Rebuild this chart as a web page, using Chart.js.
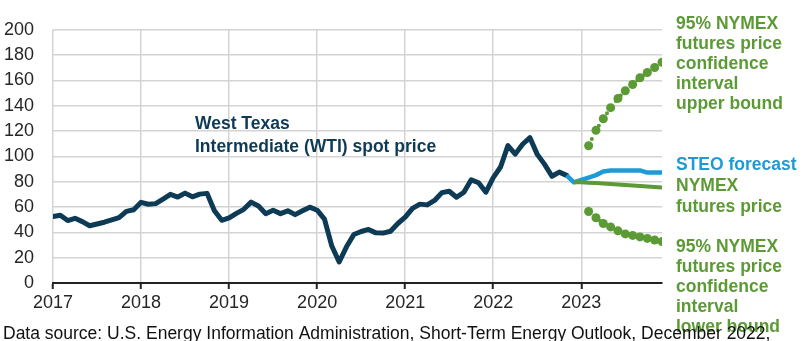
<!DOCTYPE html>
<html>
<head>
<meta charset="utf-8">
<script src="https://cdn.jsdelivr.net/npm/chart.js@4.4.1/dist/chart.umd.min.js"></script>
<style>
  html, body { margin: 0; padding: 0; background: #fff; }
  #wrap { width: 803px; height: 341px; }
</style>
</head>
<body>
<div id="wrap"><canvas id="oilChart" width="803" height="341"></canvas></div>
<script>
  // months are counted from January of the first year
  const firstYear = 2017;
  const yearTicks = [2017, 2018, 2019, 2020, 2021, 2022, 2023];
  const priceTicks = [0, 20, 40, 60, 80, 100, 120, 140, 160, 180, 200];

  // WTI monthly spot price, Jan 2017 - Nov 2022
  const wtiStart = "2017-01";
  const wtiPrice = [
    52.5, 53.5, 49.3, 51.1, 48.5, 45.2, 46.6, 48.0, 49.8, 51.6, 56.6, 57.9,
    63.7, 62.2, 62.7, 66.3, 70.0, 67.9, 71.0, 68.1, 70.2, 70.8, 57.0, 49.5,
    51.4, 55.0, 58.2, 63.9, 60.8, 54.7, 57.4, 54.8, 57.0, 54.0, 57.0, 59.9,
    57.5, 50.5, 29.2, 16.6, 28.6, 38.3, 40.7, 42.3, 39.6, 39.4, 40.9, 47.0,
    52.0, 59.0, 62.3, 61.7, 65.2, 71.4, 72.5, 67.7, 71.7, 81.5, 79.2, 71.7,
    83.2, 91.6, 108.5, 101.8, 109.6, 114.8, 101.6, 93.7, 84.3, 87.6, 85.0
  ];

  // STEO forecast, Nov 2022 - Dec 2023
  const steoStart = "2022-11";
  const steoPrice = [85.0, 79.5, 81.5, 83.3, 85.2, 88.1, 88.9, 88.9, 88.9, 88.9, 88.9, 87.2, 87.2, 87.2];

  // NYMEX futures price, Dec 2022 - Dec 2023
  const nymexStart = "2022-12";
  const nymexPrice = [79.6, 79.5, 79.2, 78.9, 78.5, 78.2, 77.8, 77.5, 77.1, 76.7, 76.3, 75.9, 75.5];

  // 95% confidence interval, Feb 2023 - Dec 2023
  const bandStart = "2023-02";
  const upperBound = [108.4, 120.6, 129.7, 138.5, 145.8, 151.9, 156.8, 162.1, 166.3, 170.2, 174.4];
  const lowerBound = [56.5, 51.5, 47.0, 44.3, 41.2, 38.8, 37.6, 36.4, 35.2, 34.0, 32.7];

  const navy = "#0d3a54";
  const blue = "#1e9ad6";
  const green = "#5b9a34";
  const gridGray = "#d4d4d4";
  const textDark = "#262626";

  function monthIndex(ym) {
    const parts = ym.split("-");
    return (Number(parts[0]) - firstYear) * 12 + Number(parts[1]) - 1;
  }

  function toPoints(start, values) {
    const i0 = monthIndex(start);
    return values.map((v, i) => ({ x: i0 + i, y: v }));
  }

  const lastMonth = monthIndex("2023-12");

  // labels next to the lines and the source note under the chart
  const textPlugin = {
    id: "chartText",
    afterDraw(chart) {
      const ctx = chart.ctx;
      ctx.save();
      ctx.textAlign = "left";
      ctx.textBaseline = "alphabetic";
      ctx.font = "bold 17.5px 'Liberation Sans', Arial, sans-serif";

      ctx.fillStyle = navy;
      ctx.fillText("West Texas", 195, 128.5);
      ctx.fillText("Intermediate (WTI) spot price", 195, 151.5);

      const rx = 676;
      ctx.fillStyle = green;
      ["95% NYMEX", "futures price", "confidence", "interval", "upper bound"].forEach((t, i) => {
        ctx.fillText(t, rx, 28.5 + i * 20);
      });
      ctx.fillStyle = blue;
      ctx.fillText("STEO forecast", rx, 170);
      ctx.fillStyle = green;
      ctx.fillText("NYMEX", rx, 191);
      ctx.fillText("futures price", rx, 211.5);
      ["95% NYMEX", "futures price", "confidence", "interval", "lower bound"].forEach((t, i) => {
        ctx.fillText(t, rx, 252 + i * 20);
      });

      ctx.fillStyle = "#111";
      ctx.font = "17.5px 'Liberation Sans', Arial, sans-serif";
      ctx.fillText("Data source: U.S. Energy Information Administration, Short-Term Energy Outlook, December 2022,", 3, 339);
      ctx.restore();
    }
  };

  const oilCtx = document.getElementById("oilChart").getContext("2d");
  const oilChart = new Chart(oilCtx, {
    type: "line",
    data: {
      datasets: [
        {
          label: "95% NYMEX futures price confidence interval upper bound",
          data: toPoints(bandStart, upperBound),
          borderColor: green,
          backgroundColor: green,
          borderWidth: 4,
          borderDash: [0, 7.5],
          borderCapStyle: "round",
          pointRadius: 4.5,
          pointBorderWidth: 0,
        },
        {
          label: "95% NYMEX futures price confidence interval lower bound",
          data: toPoints(bandStart, lowerBound),
          borderColor: green,
          backgroundColor: green,
          borderWidth: 4,
          borderDash: [0, 7.5],
          borderCapStyle: "round",
          pointRadius: 4.5,
          pointBorderWidth: 0,
        },
        {
          label: "NYMEX futures price",
          data: toPoints(nymexStart, nymexPrice),
          borderColor: green,
          borderWidth: 4,
          pointRadius: 0,
        },
        {
          label: "STEO forecast",
          data: toPoints(steoStart, steoPrice),
          borderColor: blue,
          borderWidth: 4.5,
          borderJoinStyle: "round",
          pointRadius: 0,
        },
        {
          label: "West Texas Intermediate (WTI) spot price",
          data: toPoints(wtiStart, wtiPrice),
          borderColor: navy,
          borderWidth: 5,
          borderJoinStyle: "round",
          borderCapStyle: "round",
          pointRadius: 0,
        },
      ],
    },
    options: {
      responsive: false,
      animation: false,
      layout: { padding: { left: 0, right: 141, top: 10, bottom: 0 } },
      plugins: {
        legend: { display: false },
        tooltip: { enabled: false },
      },
      elements: { line: { tension: 0 } },
      scales: {
        x: {
          type: "linear",
          min: 0,
          max: lastMonth,
          afterBuildTicks: (scale) => {
            scale.ticks = yearTicks.map((y) => ({ value: (y - firstYear) * 12 }));
          },
          afterFit: (scale) => { scale.height = 58; },
          ticks: {
            callback: (v) => String(firstYear + v / 12),
            color: textDark,
            font: { family: "'Liberation Sans', Arial", size: 18 },
            padding: 3,
            maxRotation: 0,
          },
          grid: {
            color: gridGray,
            lineWidth: 1.5,
            drawTicks: true,
            tickLength: 6,
            tickColor: "#222",
            tickWidth: 2,
          },
          border: { display: true, color: "#222", width: 2 },
        },
        y: {
          min: 0,
          max: 200,
          afterBuildTicks: (scale) => {
            scale.ticks = priceTicks.map((v) => ({ value: v }));
          },
          afterFit: (scale) => { scale.width = 53; },
          ticks: {
            color: textDark,
            font: { family: "'Liberation Sans', Arial", size: 18 },
            padding: 19,
          },
          grid: {
            color: gridGray,
            lineWidth: 1.5,
            drawTicks: false,
          },
          border: { display: false },
        },
      },
    },
    plugins: [textPlugin],
  });
</script>
</body>
</html>
